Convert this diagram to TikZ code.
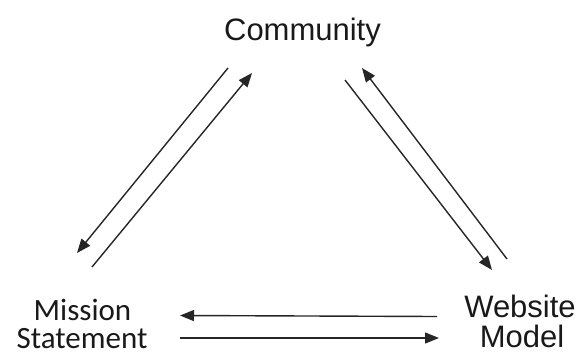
\documentclass[tikz,border=0pt]{standalone}
\usepackage{fontspec}
\setmainfont{Liberation Sans}
\newfontfamily\calib{Carlito}
\usetikzlibrary{arrows.meta}
\begin{document}
\begin{tikzpicture}[x=1pt,y=-1pt,
  lbl/.style={inner sep=0pt,outer sep=0pt,text=black!90},
  flow/.style={line width=1.4pt,draw=black!85,-{Triangle[length=14pt,width=11pt]}}]
\useasboundingbox (0,0) rectangle (585,356);
\node[lbl,anchor=base,font=\fontsize{31}{31}\selectfont] (comm) at (302.5,40) {Community};
\node[lbl,anchor=base,font=\calib\fontsize{31}{31}\selectfont] (mis) at (82.5,320) {Mission};
\node[lbl,anchor=base,font=\calib\fontsize{31}{31}\selectfont] (stm) at (82,348) {Statement};
\node[lbl,anchor=base,font=\fontsize{31}{31}\selectfont] (web) at (520,317) {Website};
\node[lbl,anchor=base,font=\fontsize{31}{31}\selectfont] (mod) at (522,347) {Model};
% arrow end points
\coordinate (l1s) at (228,68);  \coordinate (l1e) at (77,253);
\coordinate (l2s) at (92,267);  \coordinate (l2e) at (252,73);
\coordinate (r1s) at (345,80);  \coordinate (r1e) at (492,270);
\coordinate (r2s) at (507,259); \coordinate (r2e) at (362,68);
\coordinate (b1s) at (437,316.5); \coordinate (b1e) at (180,315.5);
\coordinate (b2s) at (180,338); \coordinate (b2e) at (439,338);
\draw[flow] (l1s) -- (l1e);
\draw[flow] (l2s) -- (l2e);
\draw[flow] (r1s) -- (r1e);
\draw[flow] (r2s) -- (r2e);
\draw[flow] (b1s) -- (b1e);
\draw[flow] (b2s) -- (b2e);
\end{tikzpicture}
\end{document}
